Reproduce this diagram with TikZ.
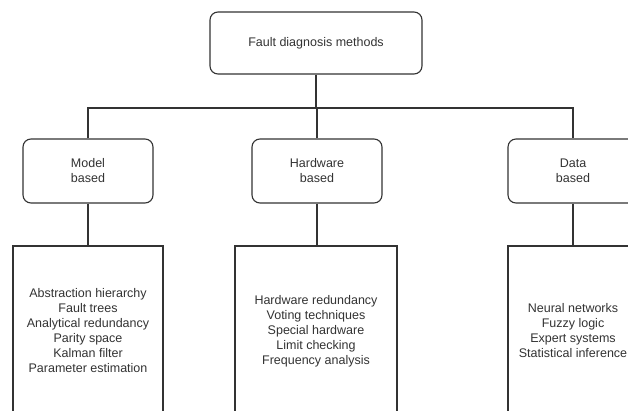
\documentclass[tikz,border=0pt]{standalone}
\usepackage{fontspec}
\setmainfont{Liberation Sans}
\begin{document}
\begin{tikzpicture}[x=1pt,y=-1pt,
  every node/.style={font=\fontsize{12.5}{15}\selectfont, text=black!80},
  headbox/.style={draw=black!80, line width=1.1pt, rounded corners=8pt, align=center,
    inner sep=0pt, minimum width=130pt, minimum height=64pt},
  listbox/.style={draw=black!80, line width=1.1pt, align=center, inner sep=0pt,
    minimum height=170pt},
  link/.style={draw=black!80, line width=1.1pt}]
\useasboundingbox (0,0) rectangle (628,410);
\clip (0,0) rectangle (628,410);
\fill[white] (0,0) rectangle (628,410);

% root
\node[headbox, minimum width=212pt, minimum height=62pt] (root) at (316,43) {Fault diagnosis methods};

% categories
\node[headbox] (model) at (88,171) {Model\\based};
\node[headbox] (hw) at (317,171) {Hardware\\based};
\node[headbox] (data) at (573,171) {Data\\based};

% method lists
\node[listbox, minimum width=150pt] (mlist) at (88,331)
  {Abstraction hierarchy\\Fault trees\\Analytical redundancy\\Parity space\\Kalman filter\\Parameter estimation};
\node[listbox, minimum width=162pt] (hlist) at (316,331)
  {Hardware redundancy\\Voting techniques\\Special hardware\\Limit checking\\Frequency analysis};
\node[listbox, minimum width=130pt] (dlist) at (573,331)
  {Neural networks\\Fuzzy logic\\Expert systems\\Statistical inference};

% tree connectors
\coordinate (bus) at (316,108);
\draw[link] (root.south) -- (root.south |- bus);
\draw[link] (model.north) -- (model.north |- bus) -- (data.north |- bus) -- (data.north);
\draw[link] (hw.north) -- (hw.north |- bus);
\draw[link] (model.south) -- (mlist.north);
\draw[link] (hw.south) -- (hw.south |- hlist.north);
\draw[link] (data.south) -- (dlist.north);
\end{tikzpicture}
\end{document}
